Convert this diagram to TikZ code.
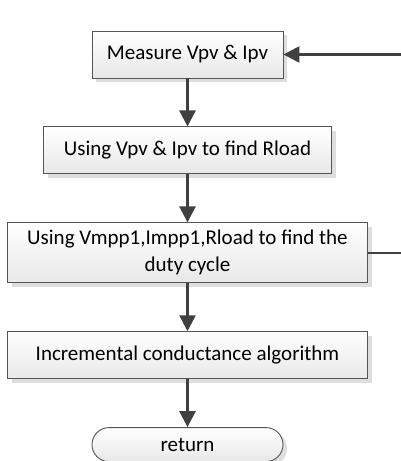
\documentclass[tikz,border=0pt]{standalone}
\usepackage{fontspec}
\setmainfont{Carlito}
\usepackage{tikz}
\usetikzlibrary{arrows.meta, positioning, shadows}
\definecolor{boxborder}{RGB}{85, 85, 85}
\definecolor{boxshade}{RGB}{232, 232, 232}
\definecolor{shadowgray}{RGB}{222, 222, 222}
\definecolor{flowline}{RGB}{64, 64, 64}
\tikzstyle{stepbox} = [rectangle, minimum height=47pt, text centered, draw=boxborder, line width=0.9pt,
                       top color=white, bottom color=boxshade, align=center,
                       font=\fontsize{21pt}{27pt}\selectfont,
                       drop shadow={shadow xshift=4pt, shadow yshift=-4pt, fill=shadowgray, opacity=1}]
\tikzstyle{endbox} = [stepbox, rounded corners=17pt, minimum height=34pt]
\tikzstyle{arrow} = [-{Triangle[length=16pt, width=16pt]}, line width=2.6pt, draw=flowline]

\begin{document}
\begin{tikzpicture}[x=1pt, y=1pt, node distance=48pt]
    \useasboundingbox (0,0) rectangle (401,-461);
    % Main flow
    \node[stepbox, minimum width=191pt] (measure) at (187.5,-54.5) {Measure Vpv \& Ipv};
    \node[stepbox, below=of measure, minimum width=288pt] (findload) {Using Vpv \& Ipv to find Rload};
    \node[stepbox, below=of findload, minimum width=360pt, minimum height=60pt] (duty) {Using Vmpp1,Impp1,Rload to find the\\duty cycle};
    \node[stepbox, below=of duty, minimum width=360pt] (incond) {Incremental conductance algorithm};
    \node[endbox, below=of incond, minimum width=191pt] (ret) {return};

    % Loop ends at the right edge
    \coordinate (rightedge) at (401,0);

    % Transitions
    \draw[arrow] (measure) -- (findload);
    \draw[arrow] (findload) -- (duty);
    \draw[arrow] (duty) -- (incond);
    \draw[arrow] (incond) -- (ret);
    \draw[arrow] (measure.east -| rightedge) -- (measure.east);
    \draw[line width=2pt, draw=flowline] (duty.east) -- (duty.east -| rightedge);
\end{tikzpicture}
\end{document}
